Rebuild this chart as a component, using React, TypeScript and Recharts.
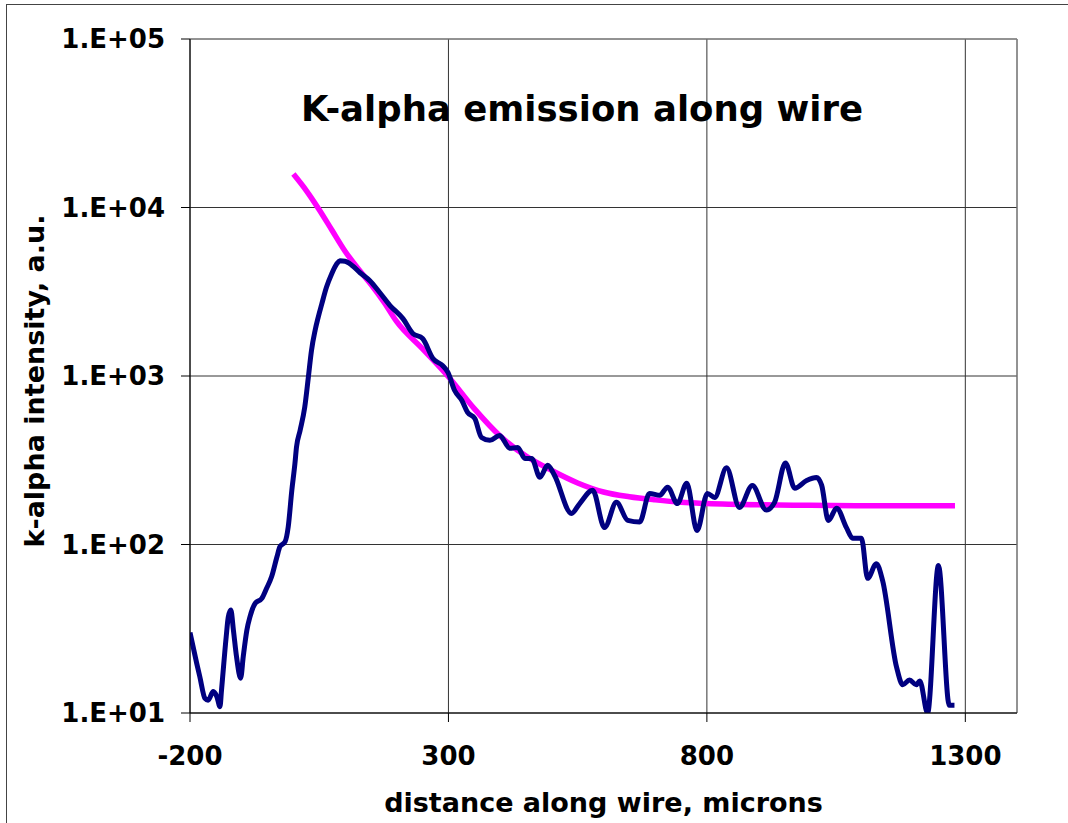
import { CartesianGrid, Label, Line, LineChart, ReferenceLine, XAxis, YAxis } from 'recharts'

// measured k-alpha profile
const distance = [
  -200, -187, -181, -171, -165, -155, -148, -142, -139, -130, -126, -121, -116, -110, -102, -97, -90, -84,
  -74, -61, -52, -42, -32, -26, -16, -10, -3, 3, 6, 13, 22, 29, 35, 42, 48, 55, 64, 74, 84, 90, 100, 109,
  129, 148, 167, 187, 212, 231, 250, 270, 289, 299, 312, 326, 337, 351, 364, 380, 399, 419, 434, 448, 461,
  477, 492, 505, 538, 554, 579, 602, 625, 647, 670, 689, 709, 724, 743, 761, 781, 801, 815, 838, 863, 888,
  915, 931, 952, 970, 993, 1012, 1022, 1035, 1051, 1070, 1082, 1099, 1111, 1128, 1140, 1167, 1179, 1192,
  1205, 1212, 1227, 1248, 1269, 1279,
]
const kAlpha = [
  30, 19.7, 16.4, 12.2, 11.9, 13.4, 12.5, 10.9, 13.7, 28.3, 37, 40.8, 31, 21.6, 16.1, 21.6, 31, 37.2,
  44.7, 47.9, 54.8, 64.5, 84, 97, 104, 127, 210, 302, 378, 475, 653, 985, 1416, 1862, 2230, 2680, 3360,
  4030, 4630, 4830, 4800, 4650, 4100, 3680, 3130, 2620, 2190, 1790, 1670, 1270, 1150, 1050, 820, 716, 608,
  560, 432, 415, 444, 372, 377, 324, 324, 251, 295, 258, 153, 175, 210, 126, 178, 139, 136, 201, 196, 219,
  175, 231, 121, 201, 190, 285, 166, 224, 160, 178, 305, 216, 240, 250, 225, 139, 164, 126, 109, 109, 63,
  77, 61, 18.7, 14.7, 15.7, 14.7, 15.5, 10, 75, 11.1, 11.1,
]

// fitted decay curve
const fitDistance = [0, 25, 50, 75, 100, 125, 150, 175, 200, 250, 300, 350, 400, 450, 500, 550, 600, 650, 700, 750, 800, 900, 1000, 1100, 1200, 1280]
const fitIntensity = [15800, 12600, 9700, 7300, 5500, 4350, 3500, 2750, 2100, 1450, 990, 640, 440, 335, 275, 232, 205, 192, 184, 178, 175, 172, 171, 170, 170, 170]

const xTicks = [-200, 300, 800, 1300]
const yTicks = [10, 100, 1000, 10000, 100000]

const measured = distance.map((x, i) => ({ x, y: kAlpha[i] }))
const fitted = fitDistance.map((x, i) => ({ x, y: fitIntensity[i] }))

const font = '"DejaVu Sans", Verdana, sans-serif'
const tickStyle = { fill: '#000', fontSize: 26, fontWeight: 700, fontFamily: font }

const expLabel = (v: number) => `1.E+${String(Math.round(Math.log10(v))).padStart(2, '0')}`

export default function App() {
  return (
    <div
      style={{
        position: 'absolute',
        left: 6,
        top: 4,
        width: 1061,
        height: 818,
        borderLeft: '1px solid #444',
        borderTop: '1px solid #444',
        background: '#fff',
      }}
    >
      <LineChart width={1060} height={818} margin={{ top: 34, right: 50, bottom: 0, left: 0 }}>
        <CartesianGrid stroke="#333" />
        <XAxis
          dataKey="x"
          type="number"
          domain={[-200, 1400]}
          ticks={xTicks}
          allowDataOverflow
          height={110}
          tickSize={9}
          tickMargin={25}
          stroke="#000"
          tick={tickStyle}
        >
          <Label
            value="distance along wire, microns"
            position="insideBottom"
            offset={11}
            style={{ fill: '#000', fontSize: 27, fontWeight: 700, fontFamily: font }}
          />
        </XAxis>
        <YAxis
          scale="log"
          domain={[10, 100000]}
          ticks={yTicks}
          allowDataOverflow
          width={183}
          tickSize={9}
          tickMargin={16}
          stroke="#000"
          tick={tickStyle}
          tickFormatter={expLabel}
        />
        <ReferenceLine y={100000} stroke="#8c8c8c" />
        <ReferenceLine x={1400} stroke="#8c8c8c" />
        <Line
          data={fitted}
          dataKey="y"
          type="monotone"
          stroke="#ff00ff"
          strokeWidth={5.5}
          dot={false}
          isAnimationActive={false}
        />
        <Line
          data={measured}
          dataKey="y"
          type="monotone"
          stroke="#000080"
          strokeWidth={5}
          dot={false}
          isAnimationActive={false}
        />
        <text
          x={575}
          y={116}
          textAnchor="middle"
          style={{ fill: '#000', fontSize: 35.5, fontWeight: 700, fontFamily: font }}
        >
          K-alpha emission along wire
        </text>
        <text
          x={37}
          y={376}
          transform="rotate(-90, 37, 376)"
          textAnchor="middle"
          style={{ fill: '#000', fontSize: 27, fontWeight: 700, fontFamily: font }}
        >
          k-alpha intensity, a.u.
        </text>
      </LineChart>
    </div>
  )
}
